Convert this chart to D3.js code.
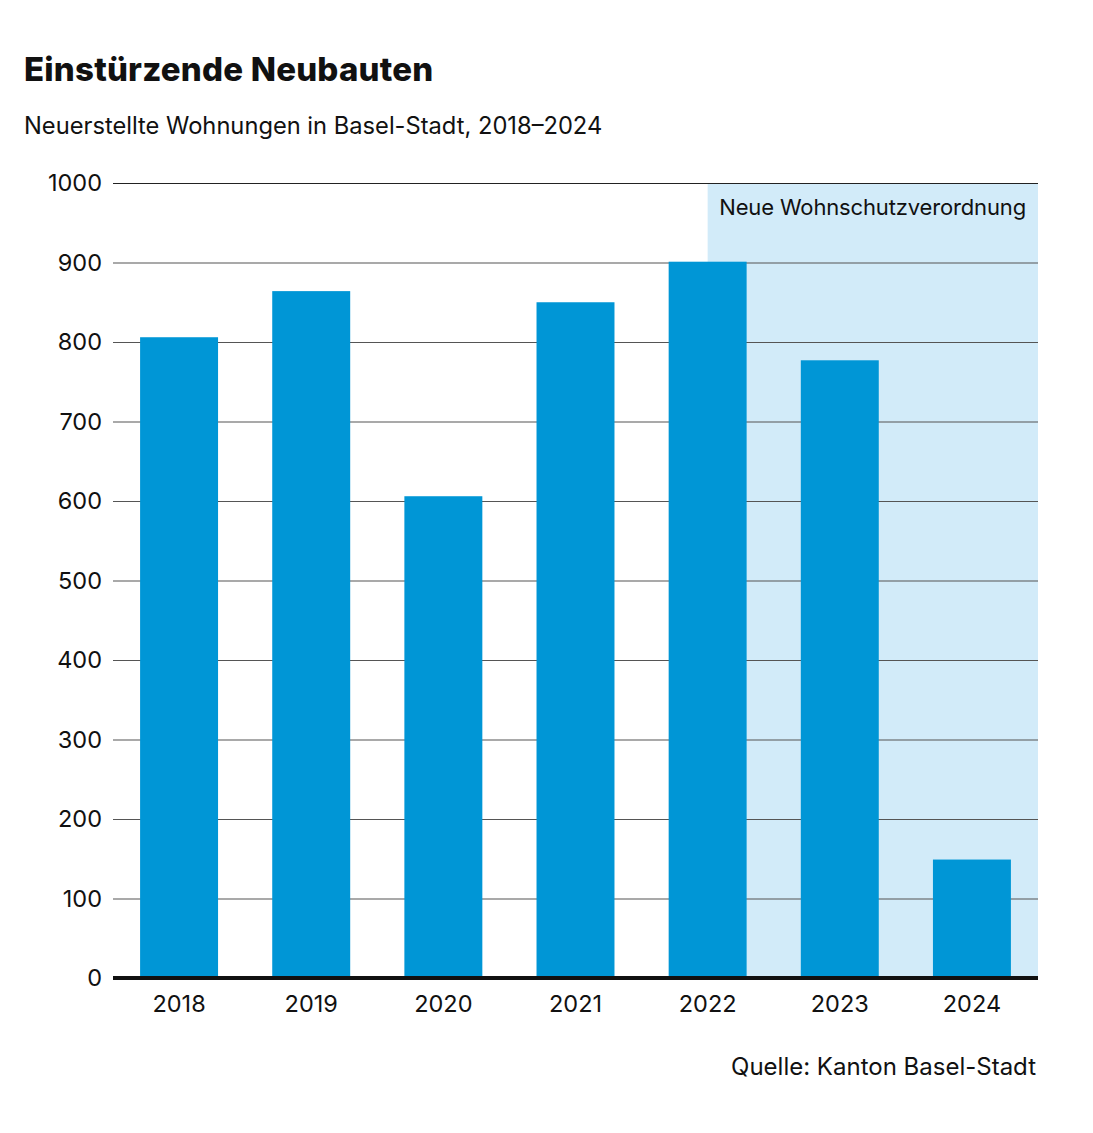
<!DOCTYPE html>
<html>
<head>
<meta charset="utf-8">
<style>
    body { margin: 0; background: #ffffff; }
    text { font-family: Inter, "Noto Sans", sans-serif; fill: #111111; }
</style>
</head>
<body>
<div class="board"></div>
<script src="https://d3js.org/d3.v7.min.js"></script>
<script>
    const years = ["2018", "2019", "2020", "2021", "2022", "2023", "2024"]
    const flats = [806, 864, 606, 850, 901, 777, 149]
    const yTicks = [0, 100, 200, 300, 400, 500, 600, 700, 800, 900, 1000]

    const title = "Einstürzende Neubauten"
    const subtitle = "Neuerstellte Wohnungen in Basel-Stadt, 2018–2024"
    const note = "Neue Wohnschutzverordnung"
    const source = "Quelle: Kanton Basel-Stadt"
    const shadeFrom = "2022"

    const width = 1093, height = 1133
    const margin = { top: 183, right: 55, bottom: 155, left: 113 }

    const BLUE = "#0096d6"
    const SHADE = "#d2ebf9"

    const svg = d3.select(".board")
        .append("svg")
        .attr("width", width)
        .attr("height", height)

    const x = d3.scaleBand()
        .domain(years)
        .range([margin.left, width - margin.right])
        .paddingInner(0.41)
        .paddingOuter(0.205)

    const y = d3.scaleLinear()
        .domain([0, 1000])
        .range([height - margin.bottom, margin.top])

    // shaded period, from the middle of 2022 to the right edge
    svg.append("rect")
        .attr("x", x(shadeFrom) + x.bandwidth() / 2)
        .attr("y", y(1000))
        .attr("width", width - margin.right - (x(shadeFrom) + x.bandwidth() / 2))
        .attr("height", y(0) - y(1000))
        .attr("fill", SHADE)

    // gridlines
    svg.append("g")
        .selectAll("line")
        .data(yTicks.filter(d => d > 0))
        .enter()
        .append("line")
        .attr("x1", margin.left)
        .attr("x2", width - margin.right)
        .attr("y1", d => y(d) + 0.5)
        .attr("y2", d => y(d) + 0.5)
        .attr("stroke", d => d == 1000 ? "#222" : "#555")
        .attr("stroke-width", 1.2)

    // y labels
    svg.append("g")
        .selectAll("text")
        .data(yTicks)
        .enter()
        .append("text")
        .attr("x", margin.left - 11)
        .attr("y", d => y(d) + 8)
        .attr("text-anchor", "end")
        .attr("font-size", 23.5)
        .text(d => d)

    // bars
    svg.append("g")
        .selectAll("rect")
        .data(years)
        .enter()
        .append("rect")
        .attr("x", d => x(d))
        .attr("y", (d, i) => y(flats[i]))
        .attr("width", x.bandwidth())
        .attr("height", (d, i) => y(0) - y(flats[i]))
        .attr("fill", BLUE)

    // baseline
    svg.append("line")
        .attr("x1", margin.left)
        .attr("x2", width - margin.right)
        .attr("y1", y(0))
        .attr("y2", y(0))
        .attr("stroke", "#111")
        .attr("stroke-width", 4)

    // x labels
    svg.append("g")
        .selectAll("text")
        .data(years)
        .enter()
        .append("text")
        .attr("x", d => x(d) + x.bandwidth() / 2)
        .attr("y", y(0) + 34)
        .attr("text-anchor", "middle")
        .attr("font-size", 23.5)
        .text(d => d)

    svg.append("text")
        .attr("x", width - margin.right - 12)
        .attr("y", y(1000) + 32)
        .attr("text-anchor", "end")
        .attr("font-size", 22)
        .attr("letter-spacing", -0.15)
        .text(note)

    svg.append("text")
        .attr("x", 24)
        .attr("y", 81)
        .attr("font-size", 33)
        .attr("font-weight", 800)
        .attr("letter-spacing", 0.2)
        .text(title)

    svg.append("text")
        .attr("x", 24)
        .attr("y", 134)
        .attr("font-size", 23.7)
        .text(subtitle)

    svg.append("text")
        .attr("x", width - 57)
        .attr("y", 1075)
        .attr("text-anchor", "end")
        .attr("font-size", 24)
        .text(source)
</script>
</body>
</html>
